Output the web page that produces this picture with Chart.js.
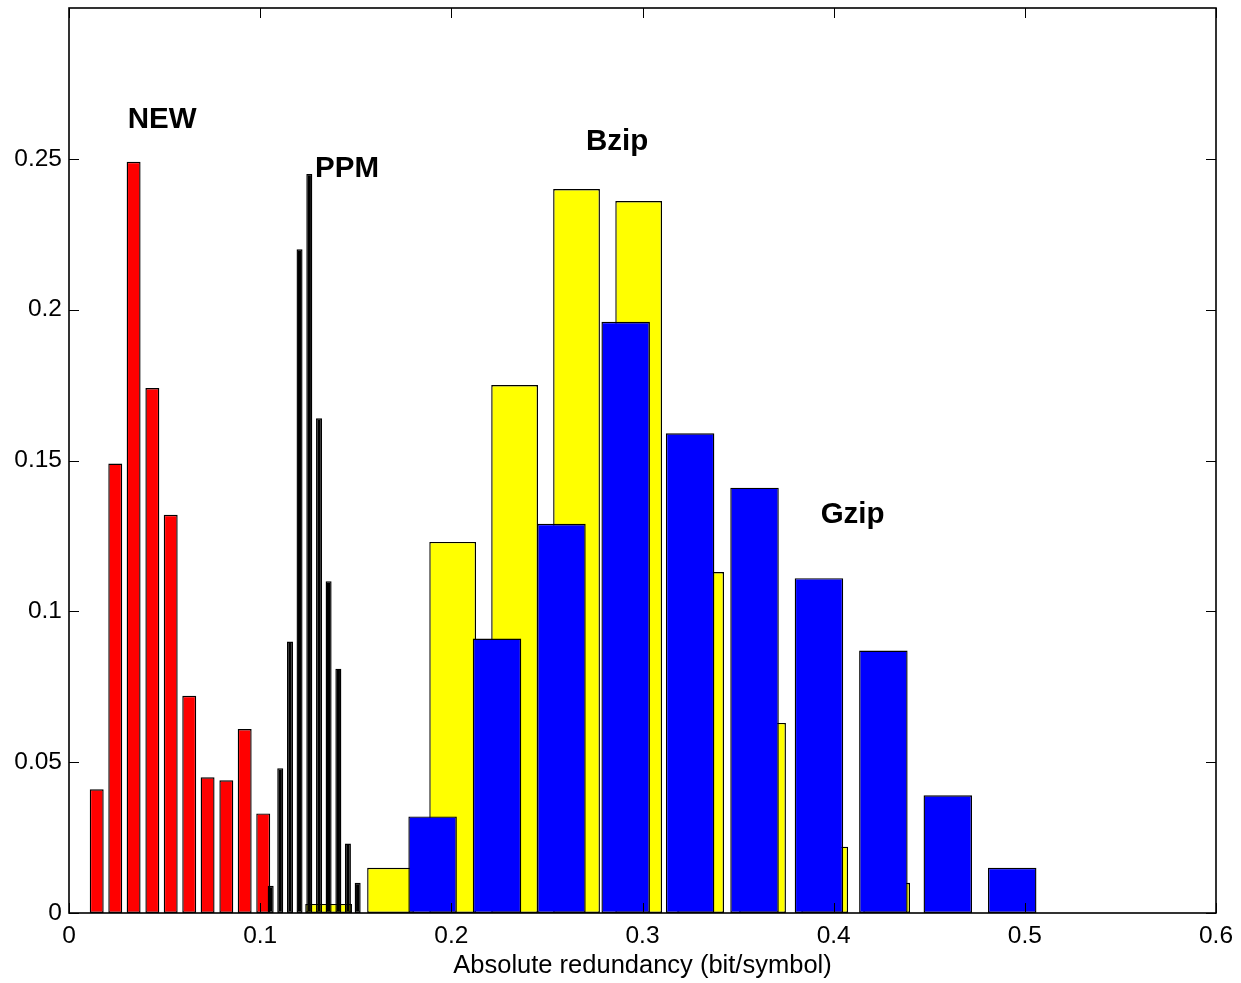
<!DOCTYPE html>
<html>
<head>
<meta charset="utf-8">
<script src="https://cdn.jsdelivr.net/npm/chart.js@4.4.0/dist/chart.umd.min.js"></script>
<style>
  body { margin: 0; background: #fff; }
  canvas { display: block; }
</style>
</head>
<body>
<canvas id="histChart" width="1241" height="983"></canvas>
<script>
// bin centres (bit/symbol) and relative frequencies
const newX  = [0.0145, 0.0242, 0.0338, 0.0436, 0.0532, 0.0629, 0.0725, 0.0823, 0.0919, 0.1016];
const newY  = [0.041, 0.149, 0.249, 0.174, 0.132, 0.072, 0.045, 0.044, 0.061, 0.033];
const ppmX  = [0.1055, 0.1105, 0.1156, 0.1206, 0.1257, 0.1308, 0.1358, 0.1409, 0.1459, 0.1510];
const ppmY  = [0.009, 0.048, 0.090, 0.220, 0.245, 0.164, 0.110, 0.081, 0.023, 0.010];
const bzipX = [0.1358, 0.1682, 0.2007, 0.2331, 0.2655, 0.2980, 0.3304, 0.3628, 0.3953, 0.4277];
const bzipY = [0.003, 0.015, 0.123, 0.175, 0.240, 0.236, 0.113, 0.063, 0.022, 0.010];
const gzipX = [0.1902, 0.2239, 0.2576, 0.2912, 0.3249, 0.3586, 0.3923, 0.4260, 0.4597, 0.4934];
const gzipY = [0.032, 0.091, 0.129, 0.196, 0.159, 0.141, 0.111, 0.087, 0.039, 0.015];

// text annotations (left edge / baseline in data units)
const labelText = ['NEW', 'PPM', 'Bzip', 'Gzip'];
const labelX = [0.0307, 0.1287, 0.2704, 0.3932];
const labelY = [0.2601, 0.2439, 0.2528, 0.1292];

const FONT = '"Liberation Sans", Arial, Helvetica, sans-serif';
Chart.defaults.font.family = FONT;
Chart.defaults.color = '#000';

const pts = (xs, ys) => xs.map((x, i) => ({ x: x, y: ys[i] }));

// each histogram gets its own (hidden) x axis so bar widths follow its own bin spacing
function hiddenX() {
    return { type: 'linear', display: false, min: 0, max: 0.6, offset: false,
             grid: { offset: false }, ticks: { stepSize: 0.1 } };
}

const framePlugin = {
    id: 'frame',
    afterDatasetsDraw(chart) {
        const { ctx, chartArea: a } = chart;
        const x = chart.scales.x, y = chart.scales.y;
        ctx.save();
        ctx.strokeStyle = '#000';
        ctx.lineWidth = 1;
        ctx.beginPath();
        x.ticks.forEach(t => {
            const px = Math.round(x.getPixelForValue(t.value)) + 0.5;
            ctx.moveTo(px, a.bottom); ctx.lineTo(px, a.bottom - 10);
            ctx.moveTo(px, a.top); ctx.lineTo(px, a.top + 10);
        });
        y.ticks.forEach(t => {
            const py = Math.round(y.getPixelForValue(t.value)) + 0.5;
            ctx.moveTo(a.left, py); ctx.lineTo(a.left + 10, py);
            ctx.moveTo(a.right, py); ctx.lineTo(a.right - 10, py);
        });
        ctx.stroke();
        ctx.lineWidth = 1.6;
        ctx.strokeRect(a.left, a.top, a.right - a.left, a.bottom - a.top);

        ctx.font = 'bold 29.5px ' + FONT;
        ctx.fillStyle = '#000';
        ctx.textAlign = 'left';
        ctx.textBaseline = 'alphabetic';
        labelText.forEach((s, i) => {
            ctx.fillText(s, x.getPixelForValue(labelX[i]), y.getPixelForValue(labelY[i]));
        });
        ctx.restore();
    }
};

const common = { borderColor: '#000', borderWidth: 1.4, borderSkipped: false,
                 categoryPercentage: 1, grouped: false, yAxisID: 'y' };

new Chart(document.getElementById('histChart'), {
    type: 'bar',
    data: {
        datasets: [
            Object.assign({ label: 'PPM', data: pts(ppmX, ppmY), backgroundColor: '#000',
                            barPercentage: 0.63, xAxisID: 'xp' }, common),
            Object.assign({ label: 'NEW', data: pts(newX, newY), backgroundColor: '#ff0000',
                            barPercentage: 0.76, xAxisID: 'x' }, common),
            Object.assign({ label: 'Gzip', data: pts(gzipX, gzipY), backgroundColor: '#0000ff',
                            barPercentage: 0.755, xAxisID: 'xg' }, common),
            Object.assign({ label: 'Bzip', data: pts(bzipX, bzipY), backgroundColor: '#ffff00',
                            barPercentage: 0.755, xAxisID: 'xb' }, common)
        ]
    },
    options: {
        responsive: false,
        devicePixelRatio: 1,
        animation: false,
        layout: { padding: { top: 8, right: 25, left: 0, bottom: 0 } },
        plugins: { legend: { display: false }, tooltip: { enabled: false } },
        scales: {
            x: {
                type: 'linear', min: 0, max: 0.6, offset: false,
                grid: { display: false, offset: false, drawTicks: false },
                border: { display: false },
                ticks: { stepSize: 0.1, padding: 9, font: { size: 24.5 },
                         callback: v => String(+v.toFixed(1)) },
                title: { display: true, text: 'Absolute redundancy (bit/symbol)',
                         font: { size: 25.5 }, padding: { top: 0, bottom: 2 } },
                afterFit: s => { s.height = 70; s.paddingLeft = 0; s.paddingRight = 0; }
            },
            xp: hiddenX(),
            xg: hiddenX(),
            xb: hiddenX(),
            y: {
                min: 0, max: 0.3,
                grid: { display: false, drawTicks: false },
                border: { display: false },
                ticks: { stepSize: 0.05, padding: 7, font: { size: 24.5 },
                         callback: v => String(+v.toFixed(2)) },
                afterBuildTicks: s => { s.ticks = s.ticks.filter(t => t.value < 0.27); },
                afterFit: s => { s.width = 69; s.paddingTop = 0; s.paddingBottom = 0; }
            }
        }
    },
    plugins: [framePlugin]
});
</script>
</body>
</html>
